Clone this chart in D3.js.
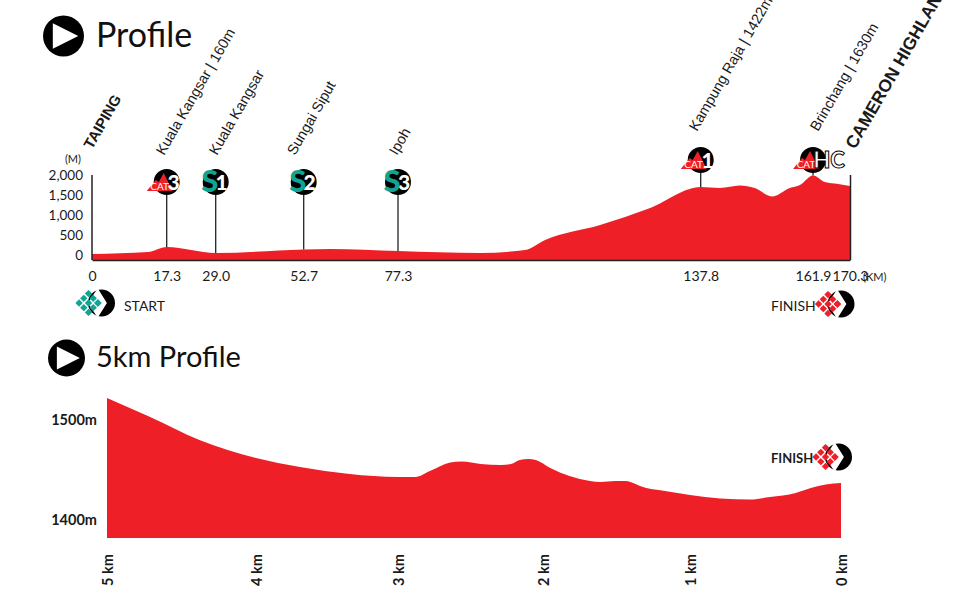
<!DOCTYPE html>
<html><head><meta charset="utf-8">
<script src="https://cdnjs.cloudflare.com/ajax/libs/d3/7.8.5/d3.min.js"></script>
<style>
html,body{margin:0;padding:0;background:#fff}
svg{display:block}
text{font-family:Lato,"Open Sans",sans-serif;fill:#1a1a1a}
.narrow{font-family:"Liberation Sans Narrow","Liberation Sans",sans-serif}
</style></head><body>
<svg id="c" width="969" height="597"></svg>
<script>
// ---- data ----
const routeKm   = [0,13,17.3,29,52.7,59.6,77.3,93.7,102.7,106.7,117.7,127.7,137.8,141.9,146.2,149.4,153.1,156.9,159.1,161.9,164.6,167.6,170.3];
const routeElev = [25,75,200,50,137,150,100,50,125,375,750,1175,1700,1675,1737,1675,1462,1675,1750,1988,1825,1775,1725];
const kmTicks   = [0,17.3,29,52.7,77.3,137.8,161.9,170.3];
const elevTicks = [0,500,1000,1500,2000];
const pointKm     = [17.3,29,52.7,77.3,137.8,161.9];
const pointNames  = ["Kuala Kangsar | 160m","Kuala Kangsar","Sungai Siput","Ipoh","Kampung Raja | 1422m","Brinchang | 1630m"];
const pointKinds  = ["cat","sprint","sprint","sprint","cat","cat"];
const pointBadges = ["3","1","2","3","1","HC"];
const startName = "TAIPING";
const endName   = "CAMERON HIGHLANDS";

const lastKm   = [5,4.71,4.38,4,3.69,3.34,3,2.88,2.78,2.64,2.56,2.43,2.29,2.22,2.16,2.10,2.05,1.95,1.82,1.68,1.61,1.51,1.44,1.37,1.34,1.17,1,0.8,0.6,0.47,0.3,0.2,0.1,0];
const lastElev = [1522,1503,1480,1462,1453,1446,1443,1443,1449,1457.5,1458.5,1456,1455,1456,1460,1461,1460,1452,1444,1439,1438,1439,1439,1436,1434,1429,1425,1421.5,1420.5,1423,1427,1432,1435.5,1437];
const lastKmTicks = [5,4,3,2,1,0];
const lastElevTicks = [1400,1500];

const RED="#ee1f27", TEAL="#0fa594", BLACK="#000";
const svg=d3.select("#c");

// ---- title helper ----
function title(cx,cy,r,label,x,y,size){
  svg.append("circle").attr("cx",cx).attr("cy",cy).attr("r",r).attr("fill",BLACK);
  svg.append("path").attr("fill","#fff").attr("d",d3.line()([[cx-r*.52,cy-r*.62],[cx+r*.72,cy],[cx-r*.52,cy+r*.62]])+"Z");
  svg.append("text").attr("x",x).attr("y",y).attr("font-size",size).style("fill","#111").text(label);
}
title(63.5,36,20.5,"Profile",96,47,34);
title(66.5,358,18.5,"5km Profile",96,367,29);

// ---- main profile ----
const x=d3.scaleLinear().domain(kmTicks).range([92,166.7,215.7,303.7,398,700.7,813,850]);
const y=d3.scaleLinear().domain([0,2000]).range([255,175]);
const BASE=260;

svg.append("path").datum(routeKm.map((k,i)=>[k,routeElev[i]]))
  .attr("fill",RED)
  .attr("d",d3.area().x(d=>x(d[0])).y0(BASE).y1(d=>y(d[1])).curve(d3.curveMonotoneX));

const gx=svg.append("g").attr("transform",`translate(0,${BASE})`)
  .call(d3.axisBottom(x).tickValues(kmTicks).tickSize(0).tickPadding(11)
  .tickFormat(d=>d===0?"0":d3.format(".1f")(d)));
gx.select(".domain").attr("stroke","#222").attr("stroke-width",1.5);
gx.selectAll("text").attr("font-size",14).style("font-family","Lato,sans-serif").style("fill","#1a1a1a");

const gy=svg.append("g").attr("transform","translate(92,0)")
  .call(d3.axisLeft(y).tickValues(elevTicks).tickSize(0).tickPadding(9));
gy.select(".domain").remove();
gy.selectAll("text").attr("font-size",13.5).style("font-family","Lato,sans-serif").style("fill","#1a1a1a");
svg.append("line").attr("x1",92).attr("x2",92).attr("y1",y(2000)).attr("y2",BASE).attr("stroke","#222").attr("stroke-width",1.5);
svg.append("line").attr("x1",850.5).attr("x2",850.5).attr("y1",y(2000)).attr("y2",BASE).attr("stroke","#222").attr("stroke-width",1.5);
svg.append("text").attr("x",81).attr("y",163).attr("text-anchor","end").attr("font-size",11).text("(M)");
svg.append("text").attr("x",863).attr("y",281).attr("font-size",11).text("(KM)");

// rotated place names
const ANG=-60;
function rotLabel(px,py,str,size,bold){
  svg.append("text").attr("class","narrow")
    .attr("transform",`translate(${px},${py}) rotate(${ANG})`)
    .attr("font-size",size).attr("font-weight",bold?700:400).text(str);
}
rotLabel(92,150,startName,15,true);
rotLabel(855,150,endName,17.5,true);
const labelPt=[[164,156],[217,156],[295,156],[397,156],[697,132],[818,132]];

// markers
const interp=d3.scaleLinear().domain(routeKm).range(routeElev);
const CY=182,R=13;
pointKm.forEach((k,i)=>{
  const px=x(k);
  svg.append("line").attr("x1",px).attr("x2",px).attr("y1",CY+R-1).attr("y2",y(interp(k)))
    .attr("stroke","#222").attr("stroke-width",1.3);
  const cy= k>130 ? (k>150?160:160) : CY;
  if(k>130) d3.select(svg.node().lastChild).attr("y1",cy+R-1);
  svg.append("circle").attr("cx",px).attr("cy",cy).attr("r",R).attr("fill",BLACK);
  const b=pointBadges[i];
  if(pointKinds[i]==="cat"){
    const tx=px-7;
    svg.append("path").attr("fill",RED)
      .attr("d",d3.line()([[tx-13,cy+9],[tx-4,cy-2],[tx-1,cy+0],[tx+4,cy-9],[tx+13,cy+9]])+"Z");
    svg.append("text").attr("x",tx).attr("y",cy+7.5).attr("text-anchor","middle")
      .attr("font-size",10).style("fill","#fff").text("CAT");
    const hc=b==="HC";
    svg.append("text").attr("x",hc?px+16:px+7).attr("y",cy+8).attr("text-anchor","middle")
      .attr("font-size",hc?22:21).attr("font-weight",900)
      .attr("stroke",hc?"#000":"none").attr("stroke-width",hc?1:0)
      .style("fill","#fff").style("font-family","Lato,sans-serif").text(b);
  } else {
    svg.append("text").attr("x",px+6).attr("y",cy+7.5).attr("text-anchor","middle")
      .attr("font-size",21).attr("font-weight",900).style("fill","#fff").text(b);
    svg.append("text").attr("x",px-6).attr("y",cy+10).attr("text-anchor","middle")
      .attr("font-size",31).attr("font-weight",900).style("fill",TEAL).text("S");
  }
  rotLabel(labelPt[i][0],labelPt[i][1],pointNames[i],14.5,false);
});

// flag icons
function flag(cx,cy,col){
  svg.append("circle").attr("cx",cx).attr("cy",cy).attr("r",13.5).attr("fill",BLACK);
  const s=9.4, ox=cx-3.6;
  const pts=[[-2,0],[-1,-1],[-1,0],[-1,1],[0,0],[-.5,-.5],[-.5,.5],[-1.5,-.5],[-1.5,.5],[-.0,-.0]];
  const g=svg.append("g");
  // white block hiding the left of the circle
  g.append("path").attr("fill","#fff").attr("d",d3.line()([[ox-10,cy],[ox,cy-15],[cx-4,cy-15],[ox+9,cy],[cx-4,cy+15],[ox,cy+15]])+"Z");
  pts.forEach(p=>{
    const a=ox-4+p[0]*s+4+0, b=cy+p[1]*s;
    const d=d3.symbol().type(d3.symbolSquare).size(27);
    g.append("path").attr("d",d()).attr("fill",col)
     .attr("transform",`translate(${a},${b}) rotate(45)`);
  });
}
flag(101.5,303,TEAL);
flag(841,304,RED);
flag(838.5,457,RED);
svg.append("text").attr("x",124).attr("y",311).attr("font-size",14).text("START");
svg.append("text").attr("x",771).attr("y",311).attr("font-size",14).text("FINISH");
svg.append("text").attr("x",771).attr("y",463).attr("font-size",13).attr("font-weight",700).text("FINISH");

// ---- last 5 km ----
const x2=d3.scaleLinear().domain(lastKmTicks).range([107,256,398,543,690,841]);
const y2=d3.scaleLinear().domain([1400,1500]).range([520,420]);
const BASE2=538;
svg.append("path").datum(lastKm.map((k,i)=>[k,lastElev[i]]))
  .attr("fill",RED)
  .attr("d",d3.area().x(d=>x2(d[0])).y0(BASE2).y1(d=>y2(d[1])).curve(d3.curveMonotoneX));
const gx2=svg.append("g").attr("transform",`translate(0,${BASE2})`)
  .call(d3.axisBottom(x2).tickValues(lastKmTicks).tickSize(0).tickFormat(d=>d+" km"));
gx2.select(".domain").remove();
gx2.selectAll("text").attr("font-size",14.5).attr("font-weight",700)
  .attr("transform","rotate(-90)").attr("text-anchor","start")
  .attr("x",-48).attr("y",0).attr("dy","0.35em")
  .style("font-family","Lato,sans-serif").style("fill","#1a1a1a");
const gy2=svg.append("g").attr("transform","translate(97,0)")
  .call(d3.axisLeft(y2).tickValues(lastElevTicks).tickSize(0).tickPadding(0).tickFormat(d=>d+"m"));
gy2.select(".domain").remove();
gy2.selectAll("text").attr("font-size",14.5).attr("font-weight",700)
  .style("font-family","Lato,sans-serif").style("fill","#1a1a1a");
</script>
</body></html>
